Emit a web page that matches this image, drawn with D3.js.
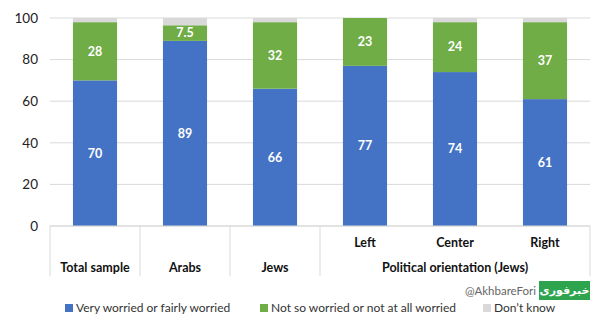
<!DOCTYPE html>
<html>
<head>
<meta charset="utf-8">
<script src="https://cdn.jsdelivr.net/npm/d3@7/dist/d3.min.js"></script>
<style>
  html, body { margin: 0; padding: 0; background: #fff; }
  svg { display: block; }
  text { font-family: Lato, "Open Sans", sans-serif; }
</style>
</head>
<body>
<svg id="chart" width="600" height="330"></svg>
<script>
// Survey shares (%) by group
const categories = ["Total sample", "Arabs", "Jews", "Left", "Center", "Right"];
const worried    = [70, 89, 66, 77, 74, 61];
const notWorried = [28, 7.5, 32, 23, 24, 37];
const dontKnow   = [2, 3.5, 2, 0, 2, 2];
const seriesNames = ["Very worried or fairly worried", "Not so worried or not at all worried", "Don\u2019t know"];
const seriesColors = ["#4472C4", "#70AD47", "#D9D9D9"];
const yTicks = [0, 20, 40, 60, 80, 100];
const groupLabel = "Political orientation (Jews)";

const svg = d3.select("#chart");
const plotLeft = 50, plotRight = 590, plotTop = 18, plotBottom = 226;

const x = d3.scaleBand().domain(categories).range([plotLeft, plotRight]).paddingInner(0).paddingOuter(0);
const y = d3.scaleLinear().domain([0, 100]).range([plotBottom, plotTop]);
const barW = x.bandwidth() * 0.49;

// Gridlines
svg.append("g")
  .selectAll("line")
  .data(yTicks)
  .join("line")
  .attr("x1", plotLeft).attr("x2", plotRight)
  .attr("y1", d => y(d)).attr("y2", d => y(d))
  .attr("stroke", "#d9d9d9").attr("stroke-width", 1);

// Y axis labels
const yAxis = d3.axisLeft(y).tickValues(yTicks).tickSize(0).tickPadding(12);
const yg = svg.append("g").attr("transform", `translate(${plotLeft},0)`).call(yAxis);
yg.select(".domain").remove();
yg.selectAll("text").attr("font-size", 13.5).attr("fill", "#222")
  .style("font-family", "Lato, sans-serif");

// Stacked data
const rows = categories.map((c, i) => ({ cat: c, worried: worried[i], notWorried: notWorried[i], dontKnow: dontKnow[i] }));
const keys = ["worried", "notWorried", "dontKnow"];
const stacked = d3.stack().keys(keys)(rows);

const layers = svg.append("g").selectAll("g")
  .data(stacked)
  .join("g")
  .attr("fill", (d, i) => seriesColors[i]);

layers.selectAll("rect")
  .data(d => d)
  .join("rect")
  .attr("x", d => x(d.data.cat) + (x.bandwidth() - barW) / 2)
  .attr("width", barW)
  .attr("y", d => y(d[1]))
  .attr("height", d => Math.max(0, y(d[0]) - y(d[1])));

// Value labels for the first two series
stacked.slice(0, 2).forEach(layer => {
  svg.append("g").selectAll("text")
    .data(layer)
    .join("text")
    .attr("x", d => x(d.data.cat) + x.bandwidth() / 2)
    .attr("y", d => (y(d[0]) + y(d[1])) / 2)
    .attr("dy", "0.35em")
    .attr("text-anchor", "middle")
    .attr("font-size", 12.5)
    .attr("font-weight", "bold")
    .attr("fill", "#fff")
    .text(d => d.data[layer.key]);
});

// Category axis: baseline, separators and labels
const axisG = svg.append("g").attr("stroke", "#d9d9d9").attr("stroke-width", 1);
axisG.append("line").attr("x1", plotLeft).attr("x2", plotRight).attr("y1", plotBottom).attr("y2", plotBottom);
const seps = [x("Total sample"), x("Arabs"), x("Jews"), x("Left"), plotRight];
axisG.selectAll("line.sep")
  .data(seps)
  .join("line")
  .attr("class", "sep")
  .attr("x1", d => d).attr("x2", d => d)
  .attr("y1", plotBottom).attr("y2", 276);

const lbl = svg.append("g").attr("font-size", 12.5).attr("font-weight", "bold").attr("fill", "#111").attr("text-anchor", "middle");
categories.forEach((c, i) => {
  const inGroup = i >= 3;
  lbl.append("text")
    .attr("x", x(c) + x.bandwidth() / 2)
    .attr("y", inGroup ? 247 : 272)
    .text(c);
});
lbl.append("text")
  .attr("x", (x("Left") + plotRight) / 2)
  .attr("y", 272)
  .text(groupLabel);

// Legend
const legendX = [65, 260, 483];
const leg = svg.append("g").selectAll("g")
  .data(seriesNames)
  .join("g")
  .attr("transform", (d, i) => `translate(${legendX[i]},308)`);
leg.append("rect").attr("x", 0).attr("y", -4).attr("width", 8).attr("height", 8)
  .attr("fill", (d, i) => seriesColors[i]);
leg.append("text").attr("x", 11).attr("y", 0).attr("dy", "0.35em")
  .attr("font-size", 12).attr("fill", "#333").text(d => d);

// Watermark
svg.append("text").attr("x", 536).attr("y", 291).attr("dy", "0.35em").attr("text-anchor", "end")
  .attr("font-size", 11.5).attr("fill", "#666").text("@AkhbareFori");
svg.append("rect").attr("x", 539).attr("y", 281).attr("width", 51).attr("height", 19).attr("fill", "#2EA44F");
svg.append("text").attr("x", 564.5).attr("y", 290).attr("dy", "0.35em").attr("text-anchor", "middle")
  .attr("font-size", 11).attr("font-weight", "bold").attr("fill", "#fff")
  .style("font-family", "'DejaVu Sans', sans-serif").text("خبرفوری");
</script>
</body>
</html>
